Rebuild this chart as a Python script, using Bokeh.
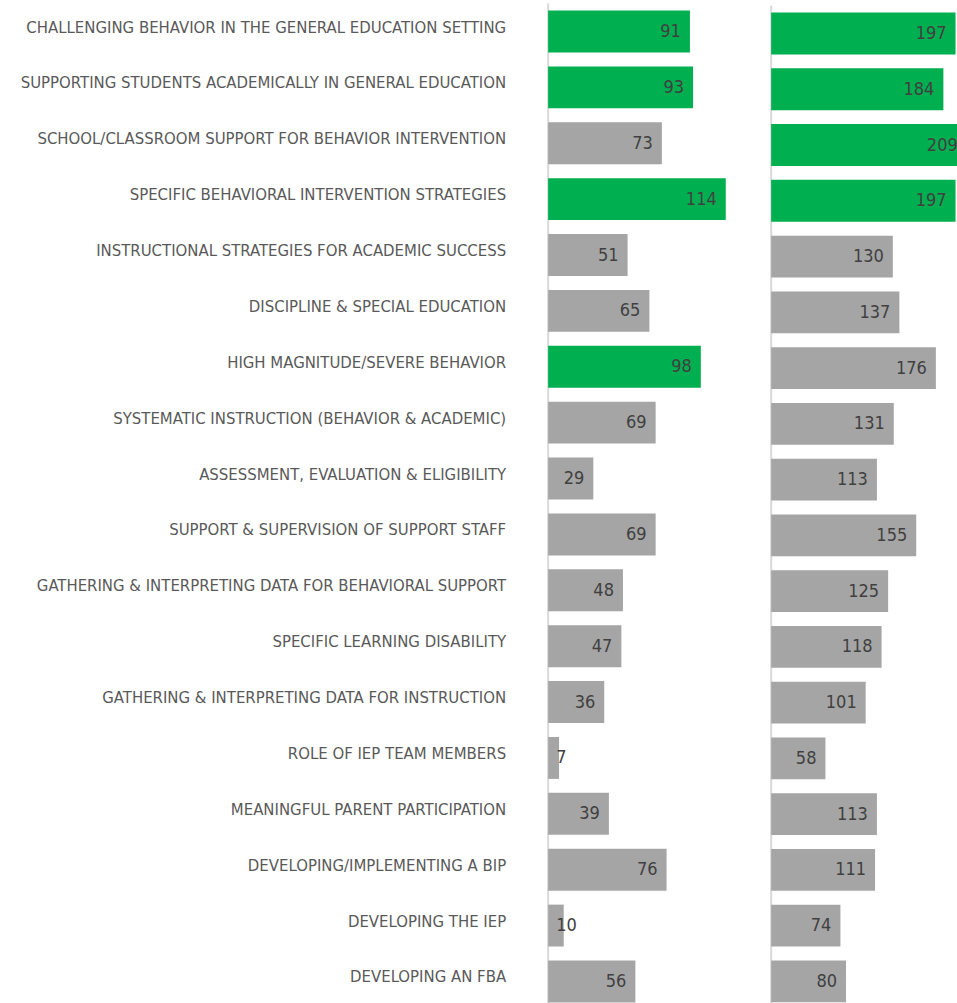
from bokeh.plotting import figure
from bokeh.models import ColumnDataSource, Range1d
from bokeh.layouts import row
from bokeh.embed import file_html
from bokeh.resources import INLINE
from bokeh.core.properties import value

categories = [
    "CHALLENGING BEHAVIOR IN THE GENERAL EDUCATION SETTING",
    "SUPPORTING STUDENTS ACADEMICALLY IN GENERAL EDUCATION",
    "SCHOOL/CLASSROOM SUPPORT FOR BEHAVIOR INTERVENTION",
    "SPECIFIC BEHAVIORAL INTERVENTION STRATEGIES",
    "INSTRUCTIONAL STRATEGIES FOR ACADEMIC SUCCESS",
    "DISCIPLINE & SPECIAL EDUCATION",
    "HIGH MAGNITUDE/SEVERE BEHAVIOR",
    "SYSTEMATIC INSTRUCTION (BEHAVIOR & ACADEMIC)",
    "ASSESSMENT, EVALUATION & ELIGIBILITY",
    "SUPPORT & SUPERVISION OF SUPPORT STAFF",
    "GATHERING & INTERPRETING DATA FOR BEHAVIORAL SUPPORT",
    "SPECIFIC LEARNING DISABILITY",
    "GATHERING & INTERPRETING DATA FOR INSTRUCTION",
    "ROLE OF IEP TEAM MEMBERS",
    "MEANINGFUL PARENT PARTICIPATION",
    "DEVELOPING/IMPLEMENTING A BIP",
    "DEVELOPING THE IEP",
    "DEVELOPING AN FBA",
]
left_values = [91, 93, 73, 114, 51, 65, 98, 69, 29, 69, 48, 47, 36, 7, 39, 76, 10, 56]
right_values = [197, 184, 209, 197, 130, 137, 176, 131, 113, 155, 125, 118, 101, 58, 113, 111, 74, 80]

GREEN = "#00B050"
GRAY = "#A5A5A5"
TOP_N = 4
FONT = "DejaVu Sans Condensed, Roboto"


def colors_for(vals):
    ranked = sorted(vals, reverse=True)
    cutoff = ranked[TOP_N - 1]
    return [GREEN if v >= cutoff else GRAY for v in vals]


def make_panel(vals, width, height, x_start, x_end, y_bottom, y_top, with_labels, small_threshold):
    p = figure(width=width, height=height, output_backend="svg", toolbar_location=None,
               x_range=Range1d(x_start, x_end), y_range=Range1d(y_bottom, y_top),
               x_axis_location=None, y_axis_location=None, min_border=0)
    p.outline_line_color = None
    p.grid.visible = False
    p.background_fill_color = "white"
    p.border_fill_color = "white"
    n = len(vals)
    ys = list(range(n))
    src = ColumnDataSource(dict(y=ys, v=vals, c=colors_for(vals), cat=categories))
    # category axis line
    p.segment(x0=[0], y0=[-0.5], x1=[0], y1=[n + 0.5], line_color="#D9D9D9", line_width=2)
    p.hbar(y="y", right="v", left=0, height=0.75, fill_color="c", line_color=None, source=src)

    big = [i for i, v in enumerate(vals) if v >= small_threshold]
    small = [i for i, v in enumerate(vals) if v < small_threshold]
    sb = ColumnDataSource(dict(y=[ys[i] for i in big], v=[vals[i] for i in big],
                               t=[str(vals[i]) for i in big]))
    ss = ColumnDataSource(dict(y=[ys[i] for i in small], v=[0] * len(small),
                               t=[str(vals[i]) for i in small]))
    p.text(x="v", y="y", text="t", source=sb, text_align="right", text_baseline="middle",
           x_offset=-9, y_offset=-1, text_font=value(FONT), text_font_size="18px",
           text_color="#404040")
    p.text(x="v", y="y", text="t", source=ss, text_align="left", text_baseline="middle",
           x_offset=8, y_offset=-1, text_font=value(FONT), text_font_size="18px",
           text_color="#404040")
    if with_labels:
        p.text(x=0, y="y", text="cat", source=src, text_align="right", text_baseline="middle",
               x_offset=-42, y_offset=-4.5, text_font=value(FONT), text_font_size="16.6px",
               text_color="#595959")
    return p


H = 1003
left = make_panel(left_values, 760, H, -351.5, 136.3, (H - 31) / 55.88, -31 / 55.88, True, 20)
right = make_panel(right_values, 197, H, -11.4, 199.1, (H - 33) / 55.76, -33 / 55.76, False, 20)

layout = row(left, right, spacing=0)
open("out.html", "w").write(file_html(layout, INLINE))
